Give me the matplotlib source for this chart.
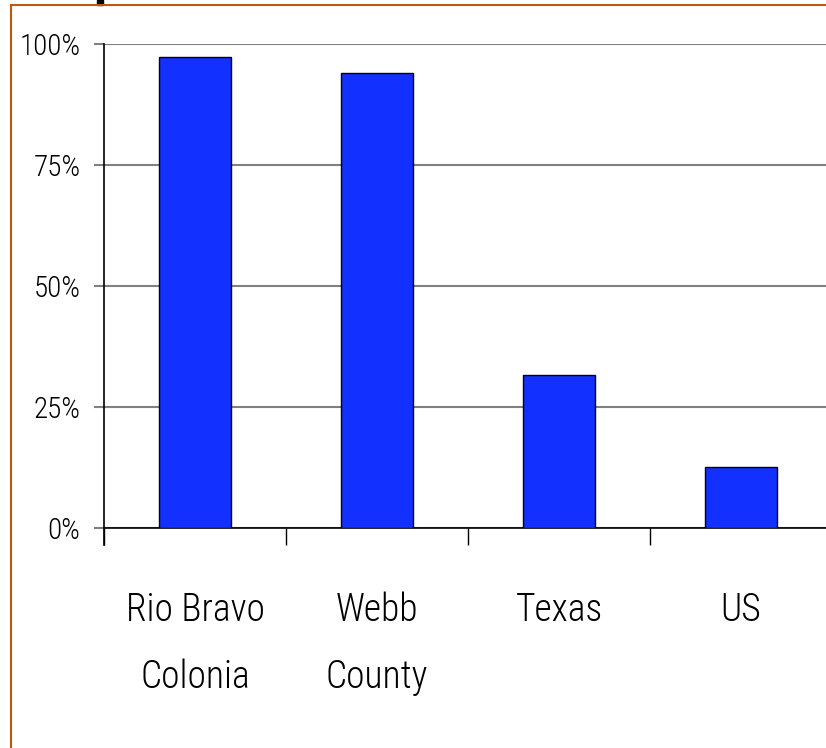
import matplotlib.pyplot as plt
from matplotlib.lines import Line2D
from matplotlib.patches import Rectangle

CATEGORIES = ['Rio Bravo\nColonia', 'Webb\nCounty', 'Texas', 'US']
VALUES = [97.3, 94.0, 31.6, 12.6]
Y_TICKS = [0, 25, 50, 75, 100]
Y_LABELS = ['0%', '25%', '50%', '75%', '100%']

FONT = ['Roboto Condensed', 'DejaVu Sans']
W, H = 826, 748


def main():
    fig = plt.figure(figsize=(W / 100, H / 100), dpi=100)
    ax = fig.add_axes([104 / W, 1 - 528 / H, 728 / W, 484 / H])

    x = list(range(len(CATEGORIES)))
    ax.bar(x, VALUES, width=0.4, color='#1230FF', edgecolor='black',
           linewidth=1.0, zorder=3)

    for s in ['top', 'right']:
        ax.spines[s].set_visible(False)
    ax.spines['left'].set_position(('data', -0.5))
    ax.spines['left'].set_linewidth(1.2)
    ax.spines['bottom'].set_linewidth(1.2)

    ax.set_xlim(-0.5, 3.5)
    ax.set_ylim(0, 100)
    ax.spines['left'].set_bounds(-3.5, 100)
    ax.set_yticks(Y_TICKS)
    ax.set_yticklabels(Y_LABELS, family=FONT, fontsize=21, fontweight='light')
    ax.set_xticks(x)
    ax.set_xticklabels(CATEGORIES, family=FONT, fontsize=27, fontweight='light',
                       linespacing=2.0, va='top')
    ax.set_xticks([-0.5, 0.5, 1.5, 2.5], minor=True)
    ax.tick_params(axis='x', which='major', length=0, pad=46)
    ax.tick_params(axis='x', which='minor', length=12, width=1, color='black')
    ax.tick_params(axis='y', length=7, width=1.5, color='#808080', pad=10)

    ax.grid(axis='y', color='#808080', linewidth=1.5, zorder=0)

    # slide frame
    fig.add_artist(Line2D([11 / W, 11 / W], [0, 1 - 5 / H],
                          transform=fig.transFigure, color='#C0580A', lw=1.5))
    fig.add_artist(Line2D([11 / W, 1], [1 - 5 / H, 1 - 5 / H],
                          transform=fig.transFigure, color='#C0580A', lw=1.5))
    fig.add_artist(Rectangle((97 / W, 1 - 5 / H), 6 / W, 5 / H,
                             transform=fig.transFigure, color='black'))

    fig.savefig('out.png', dpi=100)


if __name__ == '__main__':
    main()
